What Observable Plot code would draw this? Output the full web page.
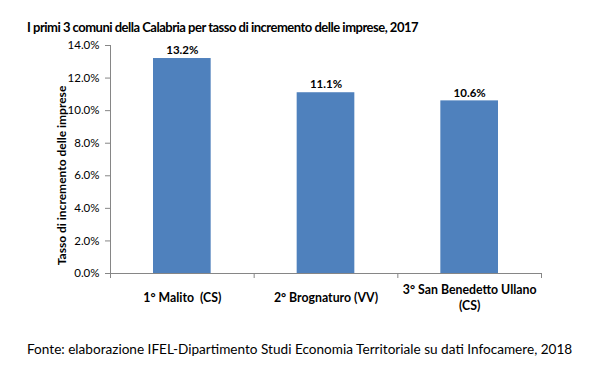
<!DOCTYPE html>
<html><head><meta charset="utf-8">
<script src="https://cdn.jsdelivr.net/npm/d3@7"></script>
<script src="https://cdn.jsdelivr.net/npm/@observablehq/plot@0.6"></script>
<style>
body{margin:0;background:#fff;font-family:Lato,"Open Sans",sans-serif;}
#wrap{position:relative;width:601px;height:385px;overflow:hidden;background:#fff;}
#chart{position:absolute;left:0;top:0;}
#title{position:absolute;left:27px;top:19px;font-size:13px;font-weight:bold;color:#000;white-space:nowrap;letter-spacing:-0.5px;z-index:2;}
#caption{position:absolute;left:27px;top:341px;font-size:13.6px;color:#000;white-space:nowrap;z-index:2;}
</style></head>
<body><div id="wrap">
<div id="chart"></div>
<div id="title">I primi 3 comuni della Calabria per tasso di incremento delle imprese, 2017</div>
<div id="caption">Fonte: elaborazione IFEL-Dipartimento Studi Economia Territoriale su dati Infocamere, 2018</div>
</div>
<script>
const categories = ["1° Malito  (CS)", "2° Brognaturo (VV)", "3° San Benedetto Ullano\n(CS)"];
const values = [0.132, 0.111, 0.106];
const labels = ["13.2%", "11.1%", "10.6%"];
const yTicks = [0, 0.02, 0.04, 0.06, 0.08, 0.10, 0.12, 0.14];

const data = categories.map((c, i) => ({c, i, v: values[i], l: labels[i]}));

const plot = Plot.plot({
  width: 601,
  height: 385,
  marginTop: 45,
  marginBottom: 112,
  marginLeft: 110,
  marginRight: 60,
  style: {fontFamily: "Lato, 'Open Sans', sans-serif", fontSize: "11.5px", color: "#000", background: "transparent"},
  x: {type: "linear", domain: [0, categories.length]},
  y: {domain: [0, 0.14]},
  marks: [
    Plot.rectY(data, {x1: "i", x2: d => d.i + 1, y: "v", fill: "#4F81BD", insetLeft: 43, insetRight: 43}),
    Plot.axisY({ticks: yTicks, tickFormat: d3.format(".1%"), tickSize: 5, tickPadding: 6, stroke: "#868686", label: null, fontSize: 11.5}),
    Plot.ruleX([0], {stroke: "#868686"}),
    Plot.ruleY([0], {stroke: "#868686"}),
    Plot.axisX({ticks: d3.range(categories.length + 1), tickFormat: () => "", tickSize: 5, stroke: "#868686", label: null}),
    Plot.text(data, {x: d => d.i + 0.5, text: "c", frameAnchor: "bottom", dy: 23, lineAnchor: "middle", fontWeight: "bold", fontSize: 12.3, lineHeight: 1.3}),
    Plot.text(data, {x: d => d.i + 0.5, y: "v", text: "l", dy: -8, fontWeight: "bold", fontSize: 11.5}),
    Plot.text(["Tasso di incremento delle imprese"], {frameAnchor: "left", textAnchor: "middle", rotate: -90, dx: -48, dy: 16, fontWeight: "bold", fontSize: 12})
  ]
});
document.getElementById("chart").appendChild(plot);
</script>
</body></html>
